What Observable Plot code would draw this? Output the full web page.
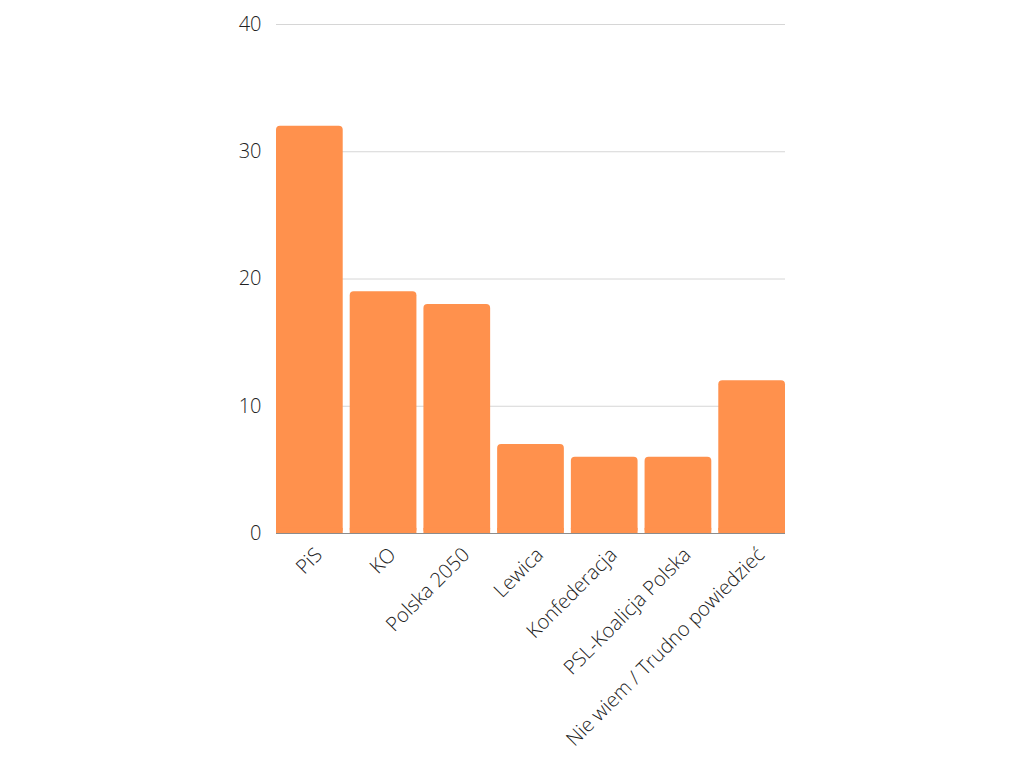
<!DOCTYPE html>
<html><head><meta charset="utf-8">
<script src="https://cdn.jsdelivr.net/npm/d3@7"></script>
<script src="https://cdn.jsdelivr.net/npm/@observablehq/plot@0.6"></script>
<style>
html,body{margin:0;padding:0;background:#fff;}
svg{display:block;}
</style>
</head><body>
<div id="chart"></div>
<script>
const categories = ["PiS","KO","Polska 2050","Lewica","Konfederacja","PSL-Koalicja Polska","Nie wiem / Trudno powiedzieć"];
const values = [32,19,18,7,6,6,12];
const yTicks = [0,10,20,30,40];
const data = categories.map((c,i)=>({party:c, value:values[i]}));
const color = "#FF914D";

const chart = Plot.plot({
  width: 1024,
  height: 768,
  marginLeft: 276,
  marginRight: 239,
  marginTop: 24,
  marginBottom: 235,
  style: {fontFamily: "'Open Sans', sans-serif", fontWeight: 300, color: "#222", background: "#fff"},
  x: {domain: categories, paddingInner: 0.095, paddingOuter: 0, round: false, label: null},
  y: {domain: [0,40], ticks: yTicks, label: null},
  marks: [
    Plot.ruleY(yTicks.slice(1), {stroke: "#d6d6d6", strokeWidth: 1}),
    Plot.barY(data, {x: "party", y: "value", fill: color, rx: 4}),
    Plot.barY(data, {x: "party", y1: 0, y2: d => Math.min(d.value, 0.4), fill: color}),
    Plot.ruleY([0], {stroke: "#8c8c8c", strokeWidth: 1.2}),
    Plot.axisY({ticks: yTicks, tickSize: 0, tickPadding: 15, fontSize: 20, label: null, fontWeight: 300}),
    Plot.axisX({tickSize: 0, tickPadding: 18, tickRotate: -45, fontSize: 20, dx: 9, label: null, fontWeight: 300})
  ]
});
document.getElementById("chart").appendChild(chart);
</script>
</body></html>
